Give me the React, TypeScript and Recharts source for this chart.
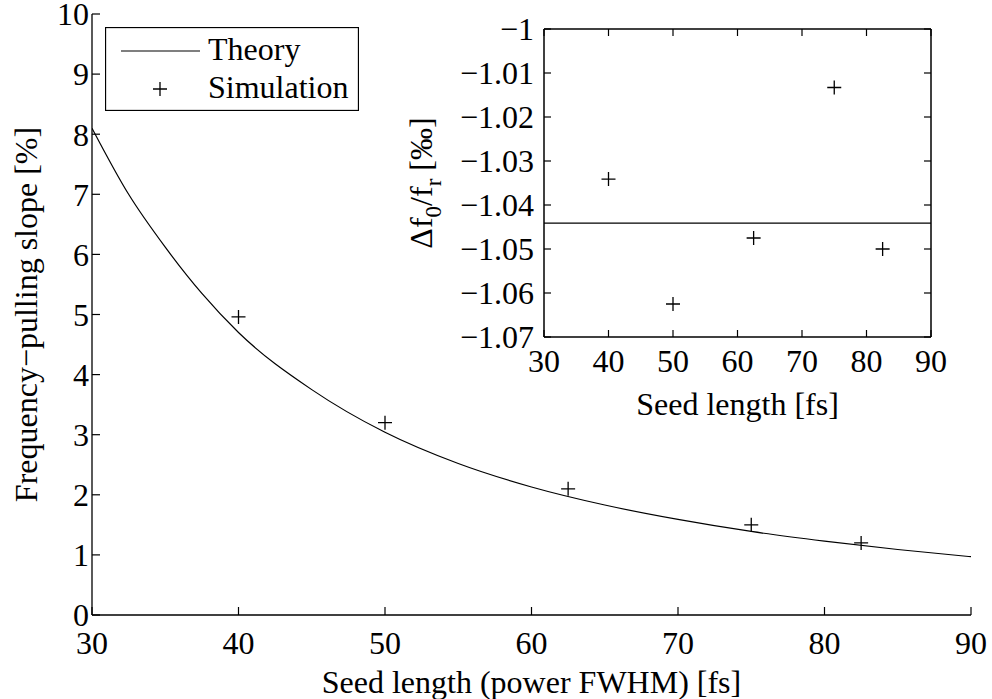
import React from 'react';
import { ComposedChart, Line, Scatter, XAxis, YAxis, Legend, Label, CartesianGrid } from 'recharts';

// ---- data ----
const xTicks = [30, 40, 50, 60, 70, 80, 90];
const mainYTicks = [0, 1, 2, 3, 4, 5, 6, 7, 8, 9, 10];
const theoryX = [30, 32.5, 35, 37.5, 40, 45, 50, 55, 60, 65, 70, 75, 80, 85, 90];
const theoryY = [8.1, 7.0, 6.12, 5.35, 4.7, 3.75, 3.04, 2.52, 2.13, 1.83, 1.59, 1.39, 1.23, 1.09, 0.97];
const simX = [40, 50, 62.5, 75, 82.5];
const simY = [4.96, 3.2, 2.1, 1.5, 1.2];

const insetYTicks = [-1.07, -1.06, -1.05, -1.04, -1.03, -1.02, -1.01, -1];
const insetSimY = [-1.0341, -1.0625, -1.0475, -1.0133, -1.05];
const insetTheoryX = [30, 90];
const insetTheoryY = [-1.0441, -1.0441];
const legendOrder = ['Theory', 'Simulation'];

const theoryData = theoryX.map((x, i) => ({ x, y: theoryY[i] }));
const simData = simX.map((x, i) => ({ x, y: simY[i] }));
const insetSimData = simX.map((x, i) => ({ x, y: insetSimY[i] }));
const insetTheoryData = insetTheoryX.map((x, i) => ({ x, y: insetTheoryY[i] }));

const FONT = 'Liberation Serif, Tinos, Times New Roman, Times, DejaVu Serif, serif';
const FS = 32;
const tickStyle = { fontFamily: FONT, fontSize: FS, fill: '#000' };

const Plus = (props: any) => {
  const { cx, cy } = props;
  if (cx == null || cy == null) return null;
  return <path d={`M${cx - 7},${cy}h14M${cx},${cy - 7}v14`} stroke="#000" strokeWidth={1.3} fill="none" />;
};

const fmtInset = (v: number) => (v === -1 ? '\u22121' : '\u2212' + Math.abs(v).toFixed(2));

const XTitle = (props: any) => {
  const { viewBox, value, dy } = props;
  return (
    <text x={viewBox.x + viewBox.width / 2} y={viewBox.y + dy} textAnchor="middle" fontFamily={FONT} fontSize={FS} fill="#000">
      {value}
    </text>
  );
};

const MainYTitle = (props: any) => {
  const { viewBox } = props;
  const cy = viewBox.y + viewBox.height / 2;
  const x = 37;
  return (
    <text x={x} y={cy} transform={`rotate(-90 ${x} ${cy})`} textAnchor="middle" fontFamily={FONT} fontSize={FS} fill="#000">
      Frequency−pulling slope [%]
    </text>
  );
};

const InsetYTitle = (props: any) => {
  const { viewBox } = props;
  const cy = viewBox.y + viewBox.height / 2;
  const x = 432;
  return (
    <text x={x} y={cy} transform={`rotate(-90 ${x} ${cy})`} textAnchor="middle" fontFamily={FONT} fontSize={FS} fill="#000">
      Δf
      <tspan dy={9} fontSize={23}>0</tspan>
      <tspan dy={-9}>/f</tspan>
      <tspan dy={9} fontSize={23}>r</tspan>
      <tspan dy={-9}> [‰]</tspan>
    </text>
  );
};

const LegendBox = (props: any) => {
  const payload = [...(props.payload || [])].sort(
    (a: any, b: any) => legendOrder.indexOf(a.value) - legendOrder.indexOf(b.value)
  );
  return (
    <svg width={254} height={84} style={{ display: 'block' }}>
      <rect x={0.5} y={0.5} width={253} height={83} fill="#fff" stroke="#000" strokeWidth={1.3} />
      {payload.map((p: any, i: number) => {
        const cy = 24 + i * 38;
        return (
          <g key={p.value}>
            {p.value === 'Theory' ? (
              <line x1={16} x2={95} y1={cy} y2={cy} stroke="#000" strokeWidth={1.2} />
            ) : (
              <path d={`M${55 - 7},${cy}h14M55,${cy - 7}v14`} stroke="#000" strokeWidth={1.3} />
            )}
            <text x={103} y={cy + 9} fontFamily={FONT} fontSize={FS} fill="#000">
              {p.value}
            </text>
          </g>
        );
      })}
    </svg>
  );
};

export default function App() {
  return (
    <div style={{ position: 'absolute', left: 0, top: 0, width: 992, height: 699, background: '#fff', fontFamily: FONT }}>
      <div style={{ position: 'absolute', left: 0, top: 0 }}>
        <ComposedChart width={992} height={699} margin={{ top: 14, right: 21, bottom: 44, left: 32 }}>
          <XAxis
            dataKey="x"
            type="number"
            domain={[30, 90]}
            ticks={xTicks}
            allowDataOverflow
            height={40}
            tickSize={-8}
            tickMargin={24}
            tick={tickStyle}
            axisLine={{ stroke: '#000', strokeWidth: 1.3 }}
            tickLine={{ stroke: '#000', strokeWidth: 1.2 }}
            interval={0}
          >
            <Label content={<XTitle value="Seed length (power FWHM) [fs]" dy={78} />} />
          </XAxis>
          <YAxis
            dataKey="y"
            type="number"
            domain={[0, 10]}
            ticks={mainYTicks}
            allowDataOverflow
            width={60}
            tickSize={-8}
            tickMargin={11}
            tick={tickStyle}
            axisLine={{ stroke: '#000', strokeWidth: 1.3 }}
            tickLine={{ stroke: '#000', strokeWidth: 1.2 }}
            interval={0}
          >
            <Label content={<MainYTitle />} />
          </YAxis>
          <Legend
            layout="vertical"
            align="center"
            verticalAlign="middle"
            content={<LegendBox />}
            wrapperStyle={{ position: 'absolute', left: 105, top: 27, width: 254, height: 84 }}
          />
          <Line
            data={theoryData}
            dataKey="y"
            name="Theory"
            type="monotone"
            dot={false}
            stroke="#000"
            strokeWidth={1.2}
            isAnimationActive={false}
          />
          <Scatter data={simData} dataKey="y" name="Simulation" shape={<Plus />} isAnimationActive={false} />
        </ComposedChart>
      </div>
      <div style={{ position: 'absolute', left: 0, top: 0, pointerEvents: 'none' }}>
        <ComposedChart width={992} height={699} margin={{ top: 19, right: 51, bottom: 322, left: 444 }}>
          <CartesianGrid horizontal={false} vertical={false} fill="#fff" />
          <XAxis
            xAxisId="b"
            dataKey="x"
            type="number"
            domain={[30, 90]}
            ticks={xTicks}
            allowDataOverflow
            height={40}
            tickSize={-7}
            tickMargin={19}
            tick={tickStyle}
            axisLine={{ stroke: '#000', strokeWidth: 1.5 }}
            tickLine={{ stroke: '#000', strokeWidth: 1.2 }}
            interval={0}
          >
            <Label content={<XTitle value="Seed length [fs]" dy={78} />} />
          </XAxis>
          <XAxis
            xAxisId="t"
            orientation="top"
            dataKey="x"
            type="number"
            domain={[30, 90]}
            ticks={xTicks}
            allowDataOverflow
            height={10}
            tickSize={-7}
            tickMargin={10}
            tickFormatter={() => ''}
            axisLine={{ stroke: '#000', strokeWidth: 1.5 }}
            tickLine={{ stroke: '#000', strokeWidth: 1.2 }}
            interval={0}
          />
          <YAxis
            yAxisId="l"
            dataKey="y"
            type="number"
            domain={[-1.07, -1]}
            ticks={insetYTicks}
            allowDataOverflow
            width={100}
            tickSize={-7}
            tickMargin={17}
            tick={tickStyle}
            tickFormatter={fmtInset}
            axisLine={{ stroke: '#000', strokeWidth: 1.5 }}
            tickLine={{ stroke: '#000', strokeWidth: 1.2 }}
            interval={0}
          >
            <Label content={<InsetYTitle />} />
          </YAxis>
          <YAxis
            yAxisId="r"
            orientation="right"
            dataKey="y"
            type="number"
            domain={[-1.07, -1]}
            ticks={insetYTicks}
            allowDataOverflow
            width={10}
            tickSize={-7}
            tickMargin={10}
            tickFormatter={() => ''}
            axisLine={{ stroke: '#000', strokeWidth: 1.5 }}
            tickLine={{ stroke: '#000', strokeWidth: 1.2 }}
            interval={0}
          />
          <Line
            xAxisId="b"
            yAxisId="l"
            data={insetTheoryData}
            dataKey="y"
            name="Theory"
            type="linear"
            dot={false}
            stroke="#000"
            strokeWidth={1.2}
            isAnimationActive={false}
          />
          <Scatter
            xAxisId="b"
            yAxisId="l"
            data={insetSimData}
            dataKey="y"
            name="Simulation"
            shape={<Plus />}
            isAnimationActive={false}
          />
        </ComposedChart>
      </div>
    </div>
  );
}
